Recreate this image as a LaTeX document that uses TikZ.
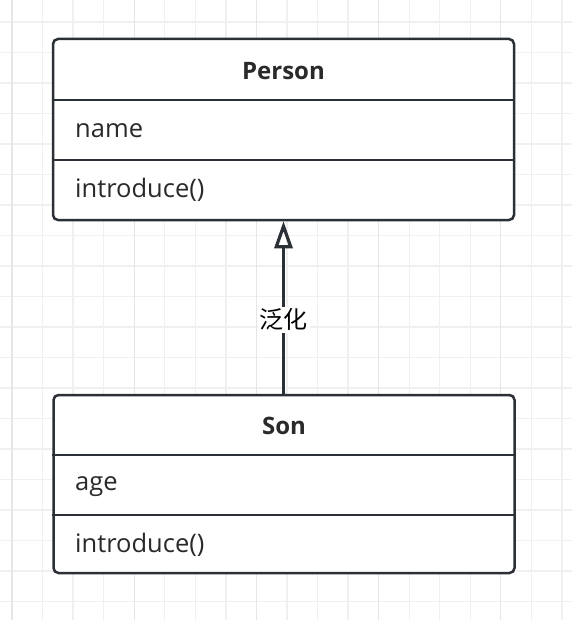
\documentclass[tikz,border=0pt]{standalone}
\usepackage{fontspec}
\setmainfont{Open Sans}
\newfontfamily\cjk{Noto Sans CJK SC}
\usetikzlibrary{arrows.meta}
\definecolor{linecol}{HTML}{2B2F36}
\definecolor{textcol}{HTML}{2A2A2A}
\definecolor{gridminor}{HTML}{F0F0F0}
\definecolor{gridmajor}{HTML}{E6E6E6}
\tikzset{
  classbox/.style={draw=linecol, line width=2.5pt, rounded corners=5pt, fill=white,
    minimum width=461pt, inner sep=0pt},
  divider/.style={draw=linecol, line width=2.5pt},
  classtitle/.style={text=textcol, font=\fontsize{24}{28}\selectfont\bfseries},
  member/.style={text=textcol, anchor=west, inner sep=0pt, font=\fontsize{25.5}{30}\selectfont},
  genarrow/.style={draw=linecol, line width=3.2pt, -{Triangle[open, length=27pt, width=18pt]}},
}
\begin{document}
\begin{tikzpicture}[x=1pt,y=-1pt]
\useasboundingbox (0,0) rectangle (572,620);
% background grid
\foreach \i in {0,...,18}
  \draw[gridminor, line width=1.3pt] ({12+30.55*\i},0) -- ({12+30.55*\i},620);
\foreach \j in {0,...,19}
  \draw[gridminor, line width=1.3pt] (0,{22+30.5*\j}) -- (572,{22+30.5*\j});
\foreach \i in {0,4,...,16}
  \draw[gridmajor, line width=1.3pt] ({12+30.55*\i},0) -- ({12+30.55*\i},620);

% class Person
\node (person) [classbox, minimum height=181pt] at (283.5,129.5) {};
\draw[divider] (person.west |- 0,100) -- (person.east |- 0,100);
\draw[divider] (person.west |- 0,160) -- (person.east |- 0,160);
\node (persontitle) [classtitle] at (283.5,71) {Person};
\node (personattr) [member] at (75,131) {name};
\node (personop) [member] at (75,190) {introduce()};

% class Son
\node (son) [classbox, minimum height=178pt] at (284,484) {};
\draw[divider] (son.west |- 0,455) -- (son.east |- 0,455);
\draw[divider] (son.west |- 0,515) -- (son.east |- 0,515);
\node (sontitle) [classtitle] at (284,426) {Son};
\node (sonattr) [member] at (75,487) {age};
\node (sonop) [member] at (75,545) {introduce()};

% generalisation
\draw[genarrow] (son.north -| 283.5,0) -- (person.south -| 283.5,0)
  node (genlabel) [pos=0.43, fill=white, text=black, inner sep=2pt,
    font=\fontsize{24}{28}\selectfont\cjk] {泛化};
\end{tikzpicture}
\end{document}
